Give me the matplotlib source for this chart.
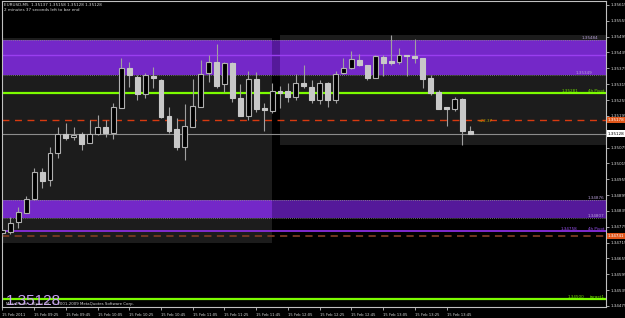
import matplotlib
matplotlib.use('Agg')
import matplotlib.pyplot as plt

# EURUSD M5, 15 Feb 2011, 09:05 .. 14:00 (60 bars)
opens = [1.34751, 1.34756, 1.34792, 1.34828, 1.34879, 1.34981, 1.34952, 1.35053, 1.35125, 1.35114,
         1.35125, 1.35093, 1.35125, 1.35154, 1.35131, 1.35226, 1.35375, 1.35343, 1.35276, 1.35346,
         1.35330, 1.35194, 1.35144, 1.35076, 1.35154, 1.35229, 1.35356, 1.35400, 1.35315, 1.35397,
         1.35261, 1.35195, 1.35333, 1.35223, 1.35214, 1.35289, 1.35289, 1.35267, 1.35318, 1.35305,
         1.35255, 1.35318, 1.35255, 1.35356, 1.35375, 1.35406, 1.35387, 1.35339, 1.35419, 1.35402,
         1.35400, 1.35425, 1.35422, 1.35416, 1.35339, 1.35286, 1.35227, 1.35220, 1.35257, 1.35137]
highs = [1.34766, 1.34813, 1.34851, 1.34893, 1.34996, 1.34996, 1.35078, 1.35151, 1.35169, 1.35151,
         1.35135, 1.35179, 1.35198, 1.35179, 1.35242, 1.35413, 1.35400, 1.35349, 1.35358, 1.35381,
         1.35333, 1.35229, 1.35185, 1.35240, 1.35333, 1.35406, 1.35425, 1.35467, 1.35398, 1.35398,
         1.35315, 1.35366, 1.35362, 1.35242, 1.35320, 1.35308, 1.35320, 1.35352, 1.35387, 1.35330,
         1.35330, 1.35324, 1.35366, 1.35416, 1.35440, 1.35429, 1.35387, 1.35425, 1.35425, 1.35501,
         1.35453, 1.35425, 1.35485, 1.35416, 1.35349, 1.35293, 1.35229, 1.35267, 1.35263, 1.35158]
lows = [1.34740, 1.34748, 1.34769, 1.34827, 1.34876, 1.34921, 1.34929, 1.35034, 1.35103, 1.35103,
        1.35065, 1.35092, 1.35122, 1.35114, 1.35106, 1.35224, 1.35305, 1.35255, 1.35261, 1.35299,
        1.35187, 1.35129, 1.35065, 1.35028, 1.35153, 1.35228, 1.35322, 1.35299, 1.35286, 1.35248,
        1.35194, 1.35179, 1.35210, 1.35139, 1.35204, 1.35223, 1.35248, 1.35255, 1.35299, 1.35242,
        1.35240, 1.35229, 1.35245, 1.35352, 1.35371, 1.35383, 1.35330, 1.35338, 1.35346, 1.35387,
        1.35391, 1.35346, 1.35394, 1.35299, 1.35274, 1.35221, 1.35157, 1.35213, 1.35084, 1.35128]
closes = [1.34763, 1.34790, 1.34830, 1.34879, 1.34983, 1.34949, 1.35053, 1.35125, 1.35110, 1.35121,
          1.35087, 1.35126, 1.35154, 1.35131, 1.35227, 1.35375, 1.35349, 1.35276, 1.35349, 1.35337,
          1.35192, 1.35139, 1.35078, 1.35157, 1.35232, 1.35352, 1.35400, 1.35308, 1.35394, 1.35263,
          1.35195, 1.35333, 1.35221, 1.35217, 1.35289, 1.35280, 1.35267, 1.35318, 1.35308, 1.35255,
          1.35318, 1.35255, 1.35352, 1.35375, 1.35409, 1.35387, 1.35339, 1.35421, 1.35396, 1.35397,
          1.35425, 1.35421, 1.35416, 1.35334, 1.35282, 1.35221, 1.35221, 1.35257, 1.35139, 1.35128]

time_ticks = [0, 4, 8, 12, 16, 20, 24, 28, 32, 36, 40, 44, 48, 52, 56]
time_labels = ['15 Feb 2011', '15 Feb 09:25', '15 Feb 09:45', '15 Feb 10:05', '15 Feb 10:25',
               '15 Feb 10:45', '15 Feb 11:05', '15 Feb 11:25', '15 Feb 11:45', '15 Feb 12:05',
               '15 Feb 12:25', '15 Feb 12:45', '15 Feb 13:05', '15 Feb 13:25', '15 Feb 13:45']
price_ticks = [1.34475, 1.34535, 1.34595, 1.34655, 1.34715, 1.34775, 1.34835, 1.34895, 1.34955, 1.35015,
               1.35075, 1.35135, 1.35195, 1.35255, 1.35315, 1.35375, 1.35435, 1.35495, 1.35555, 1.35615]

# objects drawn on the chart
pivot = 1.35281
s_pivot = 1.34758
target1 = 1.34500
upper_band = (1.35349, 1.35484)
upper_mid = 1.35426
lower_band = (1.34807, 1.34876)
red_level = 1.35178
brown_level = 1.34741
bid = 1.35128
gray_rects = [(-0.5, 34.0, 1.34713, 1.35489), (35.0, 76.5, 1.35084, 1.35501)]

fig = plt.figure(figsize=(6.25, 3.18), dpi=100, facecolor='black')
ax = fig.add_axes([2/625, 11/318, 604/625, 306/318], facecolor='black')
ax.set_xlim(-0.05, 76.1)
ax.set_ylim(1.34471, 1.35630)

# gray background rectangles
for x0, x1, y0, y1 in gray_rects:
    ax.fill_between([x0, x1], y0, y1, color='#1c1c1c', lw=0, zorder=0)

# purple zones: darker on black, brighter over the gray rectangles
for lo, hi in [upper_band, lower_band]:
    ax.fill_between([-1, 80], lo, hi, color='#55199a', lw=0, zorder=1)
    for x0, x1, y0, y1 in gray_rects:
        a, b = max(lo, y0), min(hi, y1)
        if b > a:
            ax.fill_between([x0, x1], a, b, color='#7428c8', lw=0, zorder=1)
    for lv in (lo, hi):
        ax.axhline(lv, color='#8a8a8a', lw=0.6, ls=(0, (1, 1.5)), zorder=1.5)
ax.axhline(upper_mid, color='#9a3ef0', lw=1.0, zorder=1.5)

# horizontal levels
ax.axhline(pivot, color='#7cfc00', lw=1.6, zorder=2)
ax.axhline(target1, color='#7cfc00', lw=1.6, zorder=2)
ax.axhline(s_pivot, color='#8a2ee0', lw=1.3, zorder=2)
ax.axhline(red_level, color='#d83a10', lw=1.0, ls=(0, (5, 4)), zorder=2)
ax.axhline(brown_level, color='#7a3a22', lw=1.3, ls=(0, (4, 3)), zorder=2)
ax.axhline(bid, color='#8c8c8c', lw=0.8, zorder=2)

# candles
x = list(range(len(opens)))
ax.vlines(x, lows, highs, color='#a0a0a0', lw=0.8, zorder=3)
for i in x:
    o, c = opens[i], closes[i]
    h = max(abs(c - o), 0.000012)
    if c >= o:
        ax.bar(i, h, bottom=min(o, c), width=0.62, color='black', edgecolor='#b0b0b0', lw=0.8, zorder=4)
    else:
        ax.bar(i, h, bottom=min(o, c), width=0.62, color='#c8c8c8', edgecolor='#c8c8c8', lw=0.8, zorder=4)

# axes styling
for s in ax.spines.values():
    s.set_color('#c0c0c0')
    s.set_linewidth(0.8)
ax.yaxis.tick_right()
ax.set_yticks(price_ticks)
ax.set_yticklabels(['%.5f' % p for p in price_ticks])
ax.tick_params(axis='y', colors='#c0c0c0', labelcolor='#d8d8d8', labelsize=3.0, length=2, width=0.6, pad=1.2)
ax.set_xticks(time_ticks)
ax.set_xticklabels(time_labels)
ax.tick_params(axis='x', colors='#c0c0c0', labelcolor='#d8d8d8', labelsize=2.7, length=2.5, width=0.6, pad=1.5)
plt.setp(ax.get_xticklabels(), ha='left')

tr = ax.get_yaxis_transform()
small = dict(fontsize=3.0, transform=tr, zorder=6)

# labels of the lines
ax.text(0.927, pivot, '%.5f' % pivot, color='#70e000', va='bottom', ha='left', **small)
ax.text(0.998, pivot, '4h Pivot', color='#70e000', va='bottom', ha='right', **small)
ax.text(0.924, s_pivot, '%.5f' % s_pivot, color='#9a50f0', va='bottom', ha='left', **small)
ax.text(0.998, s_pivot, '4h Pivot', color='#9a50f0', va='bottom', ha='right', **small)
ax.text(0.937, target1, '%.5f' % target1, color='#70e000', va='bottom', ha='left', **small)
ax.text(0.998, target1, 'target1', color='#70e000', va='bottom', ha='right', **small)
ax.text(0.987, upper_band[1], '%.5f' % upper_band[1], color='#b8a0d8', va='bottom', ha='right', **small)
ax.text(0.978, upper_band[0], '%.5f' % upper_band[0], color='#b8a0d8', va='bottom', ha='right', **small)
ax.text(0.998, lower_band[1], '%.5f' % lower_band[1], color='#b8a0d8', va='bottom', ha='right', **small)
ax.text(0.998, lower_band[0], '%.5f' % lower_band[0], color='#b8a0d8', va='bottom', ha='right', **small)
ax.text(0.788, red_level - 0.00004, '<22.37', color='#b8a800', va='center', ha='left', **small)

# price boxes on the right scale
for lv, fc, tc in [(red_level, '#e0561a', 'white'), (bid, 'white', 'black'), (brown_level, '#e0561a', 'white')]:
    ax.text(1.003, lv, '%.5f' % lv, transform=tr, fontsize=3.0, color=tc, va='center', ha='left',
            bbox=dict(boxstyle='square,pad=0.25', fc=fc, ec='none'), clip_on=False, zorder=7)

# top-left info and bottom-left texts
ax.text(0.004, 0.988, 'EURUSD,M5  1.35137 1.35158 1.35128 1.35128', transform=ax.transAxes,
        fontsize=3.0, color='#d8d8d8', va='center', ha='left')
ax.text(0.004, 0.970, '2 minutes 37 seconds left to bar end', transform=ax.transAxes,
        fontsize=3.0, color='#d8d8d8', va='center', ha='left')
ax.text(0.006, 0.008, '%.5f' % bid, transform=ax.transAxes, fontsize=11,
        family='Liberation Sans', color='#c9a0f5', va='baseline', ha='left', zorder=6)
ax.text(0.006, 0.004, 'MetaTrader - Alpari UK, \u00a9 2001-2009 MetaQuotes Software Corp.',
        transform=ax.transAxes, fontsize=2.8, color='#d8d8d8', va='bottom', ha='left', zorder=7)

fig.savefig('out.png', dpi=100, facecolor='black')
